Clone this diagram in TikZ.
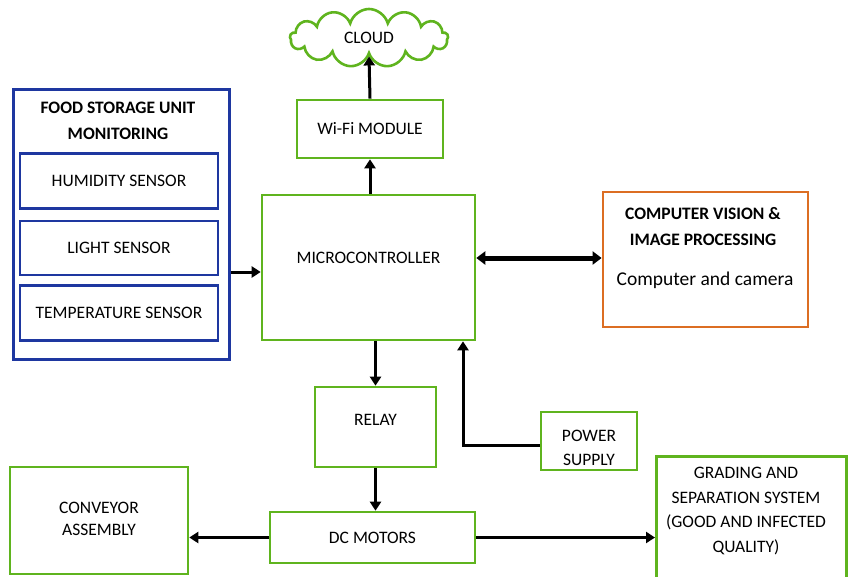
\documentclass[tikz,border=0pt]{standalone}
\usepackage{fontspec}
\setmainfont{Carlito}
\usetikzlibrary{arrows.meta,shapes.symbols}
\definecolor{boxgreen}{RGB}{95,180,30}
\definecolor{boxblue}{RGB}{30,55,160}
\definecolor{boxorange}{RGB}{220,110,35}
\tikzset{
  gbox/.style={draw=boxgreen,line width=2.6pt,fill=white,inner sep=0pt,align=center},
  bbox/.style={draw=boxblue,line width=2.8pt,fill=white,inner sep=0pt,align=center},
  obox/.style={draw=boxorange,line width=2.8pt,fill=white,inner sep=0pt},
  arr/.style={line width=3pt,-{Triangle[length=9pt,width=11pt]}},
  darr/.style={line width=5pt,{Triangle[length=9pt,width=13pt]}-{Triangle[length=9pt,width=13pt]}},
  lbl/.style={inner sep=0pt,align=center,font=\fontsize{17.5}{24}\selectfont},
  ttl/.style={inner sep=0pt,align=center,font=\fontsize{17.5}{26}\selectfont\bfseries}
}
\begin{document}
\begin{tikzpicture}[x=1pt,y=-1pt]
\useasboundingbox (0,0) rectangle (850,576);
% top: cloud and Wi-Fi
\node[cloud,cloud puffs=13,aspect=3.3,draw=boxgreen,line width=2.6pt,fill=white,
      minimum width=158pt,minimum height=58pt,lbl] (cloud) at (369,38) {CLOUD};
\node[gbox,minimum width=146pt,minimum height=58pt,lbl] (wifi) at (370,129) {Wi-Fi MODULE};
\node[gbox,minimum width=213pt,minimum height=145pt] (mcu) at (368.5,267.5) {};
\node[lbl] (mcut) at (368.5,258) {MICROCONTROLLER};
% food storage block
\node[bbox,minimum width=216pt,minimum height=270pt,anchor=north west] (food) at (12,88) {};
\node[ttl] (foodt) at (118,121) {FOOD STORAGE UNIT\\MONITORING};
\node[bbox,minimum width=198pt,minimum height=55pt,lbl] (hum) at (119,181) {HUMIDITY SENSOR};
\node[bbox,minimum width=198pt,minimum height=54pt,lbl] (light) at (119,248) {LIGHT SENSOR};
\node[bbox,minimum width=198pt,minimum height=55pt,lbl] (temp) at (119,313) {TEMPERATURE SENSOR};
% vision block
\node[obox,minimum width=205pt,minimum height=135pt] (cv) at (705.5,259.5) {};
\node[ttl] (cvt) at (703,226.5) {COMPUTER VISION \&\\IMAGE PROCESSING};
\node[inner sep=0pt,font=\fontsize{19.5}{22}\selectfont] (cvs) at (705,280) {Computer and camera};
% lower chain
\node[gbox,minimum width=121pt,minimum height=80pt] (relay) at (375.5,427) {};
\node[lbl] (relayt) at (375.5,420) {RELAY};
\node[gbox,minimum width=96pt,minimum height=58pt] (power) at (589,441) {};
\node[lbl] (powert) at (589,448) {POWER\\SUPPLY};
\node[gbox,minimum width=205pt,minimum height=51pt,lbl] (dc) at (372.5,537.5) {DC MOTORS};
\node[gbox,minimum width=178pt,minimum height=107pt] (conv) at (99,520.5) {};
\node[lbl,font=\fontsize{17.5}{22}\selectfont] (convt) at (99,519) {CONVEYOR\\ASSEMBLY};
\node[gbox,minimum width=190pt,minimum height=122pt,anchor=north west] (grade) at (655,455) {};
\node[lbl,font=\fontsize{17.5}{24.5}\selectfont] (gradet) at (746,511) {GRADING AND\\SEPARATION SYSTEM\\(GOOD AND INFECTED\\QUALITY)};
% connectors
\draw[arr] (wifi.north) -- (cloud.south);
\draw[arr] (mcu.north -| wifi.south) -- (wifi.south);
\draw[arr] (food.east |- 0,272) -- (mcu.west |- 0,272);
\draw[darr] (mcu.east |- 0,258) -- (cv.west |- 0,258);
\draw[arr] (mcu.south -| relay.north) -- (relay.north);
\draw[arr] (relay.south) -- (dc.north -| relay.south);
\coordinate (pbend) at (463,445);
\draw[arr] (power.west |- pbend) -- (pbend) -- (pbend |- mcu.south);
\draw[arr] (dc.west) -- (conv.east |- dc.west);
\draw[arr] (dc.east) -- (grade.west |- dc.east);
\end{tikzpicture}
\end{document}
